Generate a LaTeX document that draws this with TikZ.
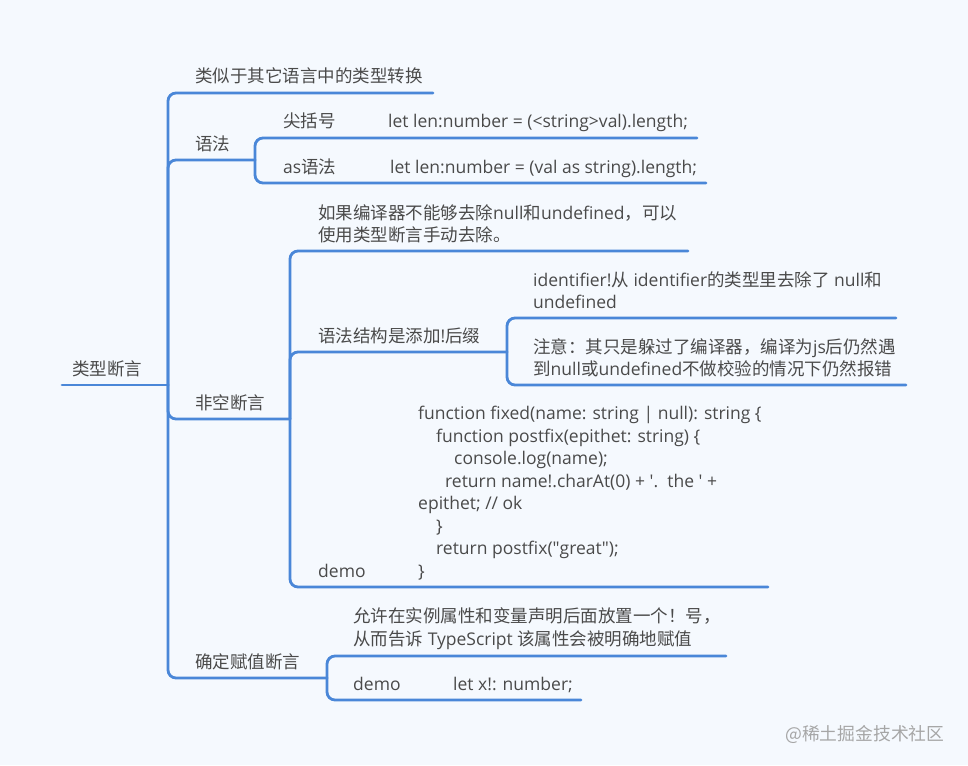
\documentclass[tikz,border=0pt]{standalone}
\usepackage{fontspec}
\setmainfont{Open Sans}
\newfontfamily\cjk{Noto Sans CJK SC}
\definecolor{bgc}{HTML}{F5F9FE}
\definecolor{linec}{HTML}{4A87D8}
\definecolor{txtc}{HTML}{4A4A4A}
\definecolor{wmc}{HTML}{A6A6A6}
\tikzset{
  conn/.style={draw=linec, line width=2.8pt, rounded corners=8pt, line cap=round},
  lbl/.style={anchor=base west, inner sep=0pt, text=txtc, font=\fontsize{17.5}{22.6}\selectfont},
  wm/.style={anchor=base west, inner sep=0pt, text=wmc, font=\fontsize{17.8}{20}\selectfont\cjk}
}
\begin{document}
\begin{tikzpicture}[x=1pt,y=-1pt]
\fill[bgc] (0,0) rectangle (968,765);
\useasboundingbox (0,0) rectangle (968,765);

% junction / end coordinates
\coordinate (rootS) at (62,385);
\coordinate (rootJ) at (168,385);
\coordinate (c1E) at (433,93);
\coordinate (c2J) at (255,160);
\coordinate (c21E) at (697,138);
\coordinate (c22E) at (706,183);
\coordinate (c3J) at (290,419);
\coordinate (c31E) at (688,251);
\coordinate (c32J) at (507,352);
\coordinate (c321E) at (896,318);
\coordinate (c322E) at (906,385);
\coordinate (c33E) at (768,587);
\coordinate (c4J) at (327,678);
\coordinate (c41E) at (726,656);
\coordinate (c42E) at (581,700);

% connectors
\draw[conn] (rootS) -- (rootJ);
\draw[conn] (rootJ) |- (c1E);
\draw[conn] (rootJ) |- (c2J);
\draw[conn] (c2J) |- (c21E);
\draw[conn] (c2J) |- (c22E);
\draw[conn] (rootJ) |- (c3J);
\draw[conn] (c3J) |- (c31E);
\draw[conn] (c3J) |- (c32J);
\draw[conn] (c32J) |- (c321E);
\draw[conn] (c32J) |- (c322E);
\draw[conn] (c3J) |- (c33E);
\draw[conn] (rootJ) |- (c4J);
\draw[conn] (c4J) |- (c41E);
\draw[conn] (c4J) |- (c42E);

% texts
\node[lbl] (root) at (72,375) {\cjk 类型断言};
\node[lbl] (c1) at (195,83) {\cjk 类似于其它语言中的类型转换};
\node[lbl] (c2) at (195,150) {\cjk 语法};
\node[lbl] (c21) at (283,128) {\cjk 尖括号};
\node[lbl] (c21v) at (388,128) {let len:number = (<string>val).length;};
\node[lbl] (c22) at (283,173) {as{\cjk 语法}};
\node[lbl] (c22v) at (390,173) {let len:number = (val as string).length;};
\node[lbl] (c3) at (195,409) {\cjk 非空断言};
\node[lbl] (c31a) at (318,219) {{\cjk 如果编译器不能够去除}null{\cjk 和}undefined{\cjk ，可以}};
\node[lbl] (c31b) at (318,241) {\cjk 使用类型断言手动去除。};
\node[lbl] (c32) at (318,342) {{\cjk 语法结构是添加}!{\cjk 后缀}};
\node[lbl] (c321a) at (533,286) {identifier!{\cjk 从} identifier{\cjk 的类型里去除了} null{\cjk 和}};
\node[lbl] (c321b) at (533,308) {undefined};
\node[lbl] (c322a) at (533,353) {{\cjk 注意：其只是躲过了编译器，编译为}js{\cjk 后仍然遇}};
\node[lbl] (c322b) at (533,375) {{\cjk 到}null{\cjk 或}undefined{\cjk 不做校验的情况下仍然报错}};
\node[lbl] (c33) at (318,577) {demo};
\node[lbl] (code1) at (418,419.5) {function fixed(name: string | null): string \{};
\node[lbl] (code2) at (436,442) {function postfix(epithet: string) \{};
\node[lbl] (code3) at (454,464.5) {console.log(name);};
\node[lbl] (code4) at (445,487) {return name!.charAt(0) + \textquotesingle.\ \ the \textquotesingle\ +};
\node[lbl] (code5) at (418,509.5) {epithet; // ok};
\node[lbl] (code6) at (436,532) {\}};
\node[lbl] (code7) at (436,554.5) {return postfix(\textquotedbl great\textquotedbl);};
\node[lbl] (code8) at (418,577) {\}};
\node[lbl] (c4) at (195,668) {\cjk 确定赋值断言};
\node[lbl] (c41a) at (353,622) {\cjk 允许在实例属性和变量声明后面放置一个！号，};
\node[lbl] (c41b) at (353,645) {{\cjk 从而告诉} TypeScript {\cjk 该属性会被明确地赋值}};
\node[lbl] (c42) at (353,690) {demo};
\node[lbl] (c42v) at (453,690) {let x!: number;};
\node[wm] (wmark) at (785,740) {@稀土掘金技术社区};
\end{tikzpicture}
\end{document}
